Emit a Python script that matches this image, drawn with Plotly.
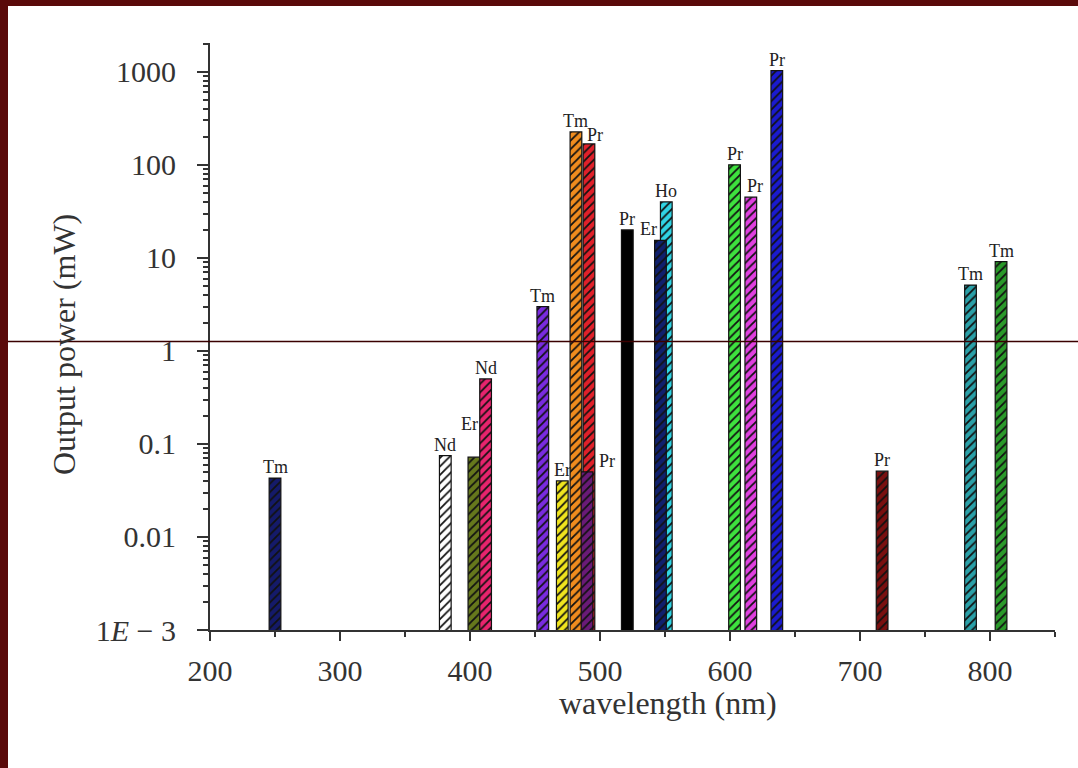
import math
import plotly.graph_objects as go

# ---- data ----
wavelength = [250, 381, 403, 412, 456, 471, 481.5, 491.5, 490, 521, 551, 546.5, 603.5, 616, 636, 717, 785, 808.5]
power_mw   = [0.043, 0.075, 0.072, 0.5, 3.0, 0.04, 226, 168, 0.05, 20, 40, 15.4, 100, 45, 1030, 0.051, 5.1, 9.1]
ion        = ["Tm", "Nd", "Er", "Nd", "Tm", "Er", "Tm", "Pr", "Pr", "Pr", "Ho", "Er", "Pr", "Pr", "Pr", "Pr", "Tm", "Tm"]
bar_colors = ["#141a6a", "#ffffff", "#66781c", "#e8246e", "#7a2be0", "#f0e41e", "#f08c1e", "#e0202a",
              "#6a1a78", "#000000", "#30d4e4", "#10206e", "#3ee23e", "#e040e0", "#1a1ad0", "#7a1010",
              "#2aa0a8", "#2a9a2a"]
hatch      = ["/", "/", "/", "/", "/", "/", "/", "/", "/", "", "/", "/", "/", "/", "/", "/", "/", "/"]

y_tickvals = [0.001, 0.01, 0.1, 1, 10, 100, 1000]
y_ticktext = ["1<i>E</i> − 3", "0.01", "0.1", "1", "10", "100", "1000"]
x_tickvals = [200, 300, 400, 500, 600, 700, 800]

# label offsets (pixels) for labels displaced from bar tops
label_shift = {2: (-4, 22), 8: (20, 0), 11: (-12, 0), 7: (6, -2), 13: (4, 0)}

FONT = "Liberation Serif, Times New Roman, serif"
AX = "#333333"

W, H = 1078, 768
L, R, T, B = 210, 23, 43, 138
PW, PH = W - L - R, H - T - B


def px_x(px):
    return (px - L) / PW


def px_y(py):
    return (H - B - py) / PH


fig = go.Figure()
for xv, yv, col, hs, lab in zip(wavelength, power_mw, bar_colors, hatch, ion):
    fig.add_trace(go.Bar(
        x=[xv], y=[yv], width=9, name=lab,
        marker=dict(
            color=col,
            line=dict(color="#111111", width=1.2),
            pattern=dict(shape=hs, fgcolor="#111111", bgcolor=col, fgopacity=1,
                         fillmode="replace", size=6, solidity=0.3),
        ),
        hoverinfo="x+y+name",
        showlegend=False,
    ))

for i, (xv, yv, lab) in enumerate(zip(wavelength, power_mw, ion)):
    dx, dy = label_shift.get(i, (0, 0))
    fig.add_annotation(x=xv, y=math.log10(yv), yref="y", xref="x", text=lab, showarrow=False,
                       yanchor="bottom", xanchor="center", xshift=dx, yshift=dy - 1,
                       font=dict(family=FONT, size=18, color="#222222"))

minor_y = [m * 10 ** k for k in range(-3, 4) for m in range(2, 10)]
fig.update_layout(
    width=W, height=H,
    margin=dict(l=L, r=R, t=T, b=B),
    paper_bgcolor="#ffffff", plot_bgcolor="#ffffff",
    barmode="overlay",
    font=dict(family=FONT, color=AX),
    xaxis=dict(range=[200, 850], tickvals=x_tickvals, ticks="outside", ticklen=9, tickwidth=2,
               tickcolor=AX, showline=True, linecolor=AX, linewidth=2, showgrid=False, zeroline=False,
               tickfont=dict(size=30, family=FONT, color=AX), ticklabelstandoff=4,
               minor=dict(tickvals=[250, 350, 450, 550, 650, 750, 850], ticks="outside", ticklen=5,
                          tickwidth=2, tickcolor=AX)),
    yaxis=dict(type="log", range=[-3, 3.31], tickvals=y_tickvals, ticktext=y_ticktext,
               ticks="outside", ticklen=11, tickwidth=2, tickcolor=AX, showline=True, linecolor=AX,
               linewidth=2, showgrid=False, zeroline=False, ticklabelstandoff=15,
               tickfont=dict(size=30, family=FONT, color=AX),
               minor=dict(tickvals=minor_y, ticks="outside", ticklen=5, tickwidth=1.5, tickcolor=AX)),
)

# axis titles
fig.add_annotation(xref="paper", yref="paper", x=px_x(668), y=px_y(703), text="wavelength (nm)",
                   showarrow=False, xanchor="center", yanchor="middle",
                   font=dict(family=FONT, size=32, color=AX))
fig.add_annotation(xref="paper", yref="paper", x=px_x(64), y=px_y(345), text="Output power (mW)",
                   textangle=-90, showarrow=False, xanchor="center", yanchor="middle",
                   font=dict(family=FONT, size=32, color=AX))

# dark red frame strips (left and top) and the stray horizontal line
frame = "#5a0a0a"
fig.add_shape(type="rect", xref="paper", yref="paper", x0=px_x(0), x1=px_x(8), y0=px_y(H), y1=px_y(0),
              fillcolor=frame, line=dict(width=0), layer="above")
fig.add_shape(type="rect", xref="paper", yref="paper", x0=px_x(0), x1=px_x(W), y0=px_y(6), y1=px_y(0),
              fillcolor=frame, line=dict(width=0), layer="above")
fig.add_shape(type="line", xref="paper", yref="paper", x0=px_x(8), x1=px_x(W), y0=px_y(341.5), y1=px_y(341.5),
              line=dict(color="#3a0000", width=1.5), layer="above")

fig.write_html("out.html", config={"displayModeBar": False},
               post_script="document.body.style.margin='0';document.body.style.overflow='hidden';")
